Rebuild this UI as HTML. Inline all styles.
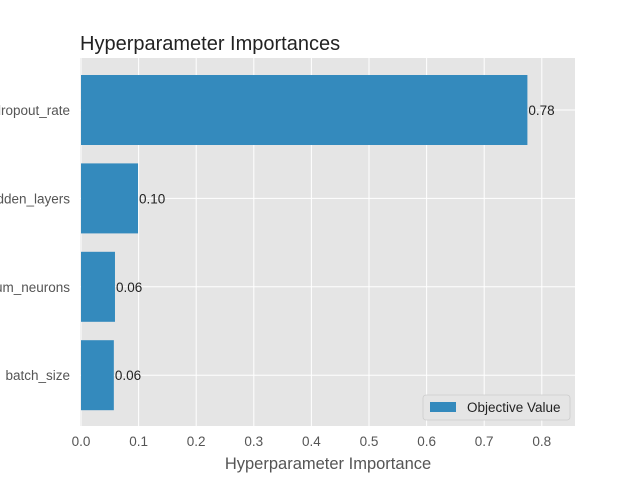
<!DOCTYPE html>
<html><head><meta charset="utf-8"><style>
body{margin:0;background:#fff;}
svg text{font-family:"Liberation Sans",sans-serif;}
</style></head><body>
<svg id="c" width="640" height="480" xmlns="http://www.w3.org/2000/svg"></svg>
<script>
const categories=["dropout_rate","hidden_layers","num_neurons","batch_size"];
const values=[0.775,0.099,0.059,0.057];
const valueLabels=["0.78","0.10","0.06","0.06"];
const xTicks=[0,0.1,0.2,0.3,0.4,0.5,0.6,0.7,0.8];
const xTickLabels=["0.0","0.1","0.2","0.3","0.4","0.5","0.6","0.7","0.8"];
const NS="http://www.w3.org/2000/svg";
const svg=document.getElementById('c');
const L=80,R=575,T=58,B=426;
const X=v=>81+v*576;
const Y=i=>110+i*88.4;
function mk(t,a,p){const e=document.createElementNS(NS,t);for(const k in a)e.setAttribute(k,a[k]);(p||svg).appendChild(e);return e;}
const bg=mk('rect',{x:L,y:T,width:R-L,height:B-T,fill:'#e5e5e5'});


xTicks.forEach((t,i)=>{
  const g=mk('line',{x1:X(t),x2:X(t),y1:T,y2:B,stroke:'#fff','stroke-width':1});
  
  
  const tl=mk('text',{x:X(t),y:446,'text-anchor':'middle','font-size':13.5,fill:'#555'});
  tl.textContent=xTickLabels[i];
  
  
});
categories.forEach((c,i)=>{
  const g=mk('line',{x1:L,x2:R,y1:Y(i),y2:Y(i),stroke:'#fff','stroke-width':1});
  
  
});
categories.forEach((c,i)=>{
  const b=mk('rect',{x:X(0),y:Y(i)-35,width:X(values[i])-X(0),height:70,fill:'#348abd'});
  
  
  const v=mk('text',{x:X(values[i])+1,y:Y(i)+5,'font-size':13.5,fill:'#222'});
  v.textContent=valueLabels[i];
  
  
  const yl=mk('text',{x:70,y:Y(i)+5,'text-anchor':'end','font-size':13.5,fill:'#555'});
  yl.textContent=c;
  
  
});
const title=mk('text',{x:80,y:50,'font-size':20,fill:'#222'});
title.textContent="Hyperparameter Importances";


const xt=mk('text',{x:328,y:469,'text-anchor':'middle','font-size':16.5,fill:'#555'});
xt.textContent="Hyperparameter Importance";


const lg=mk('g',{});


mk('rect',{x:423,y:395,width:147,height:25,rx:3,fill:'#e5e5e5',stroke:'#ccc','stroke-width':0.8},lg);
const sw=mk('rect',{x:430,y:402,width:26,height:10,fill:'#348abd'},lg);


const lt=mk('text',{x:467,y:412,'font-size':13.5,fill:'#222'},lg);
lt.textContent="Objective Value";


</script>
</body></html>
